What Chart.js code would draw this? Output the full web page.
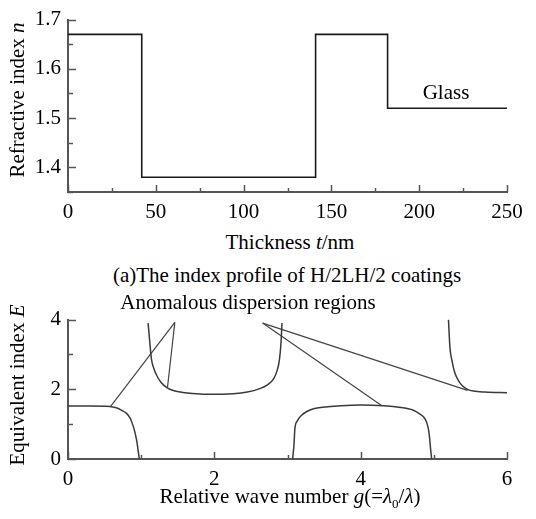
<!DOCTYPE html>
<html><head><meta charset="utf-8">
<script src="https://cdn.jsdelivr.net/npm/chart.js@4/dist/chart.umd.min.js"></script>
<style>
html,body{margin:0;padding:0;background:#fff;}
body{width:536px;height:519px;position:relative;overflow:hidden;font-family:"Liberation Serif","Times New Roman",serif;color:#000;}
canvas{position:absolute;left:0;}
.t{position:absolute;font-size:21px;white-space:nowrap;line-height:1;transform:translate(-50%,-50%);}
.r{transform:translate(-50%,-50%) rotate(-90deg);}
</style></head><body>
<canvas id="topChart" width="536" height="222" style="top:0"></canvas>
<canvas id="botChart" width="536" height="190" style="top:300px"></canvas>
<div class="t r" style="left:17px;top:100px">Refractive index <i>n</i></div>
<div class="t" style="left:290px;top:242px">Thickness <i>t</i>/nm</div>
<div class="t" style="left:446px;top:92px">Glass</div>
<div class="t" style="left:287px;top:275px">(a)The index profile of H/2LH/2 coatings</div>
<div class="t" style="left:248px;top:302px">Anomalous dispersion regions</div>
<div class="t r" style="left:17px;top:385px">Equivalent index <i>E</i></div>
<div class="t" style="left:290px;top:498px">Relative wave number <i>g</i>(=<i>λ</i><sub style="font-size:13px">0</sub>/<i>λ</i>)</div>
<script>
// ---- Top chart: index profile (thickness in nm, refractive index)
const layerStart = [0, 42, 141, 182];
const layerEnd   = [42, 141, 182, 250];
const layerIndex = [1.67, 1.38, 1.67, 1.52];
const topXTicks = [0, 50, 100, 150, 200, 250];
const topYTicks = [1.4, 1.5, 1.6, 1.7];

// ---- Bottom chart: equivalent index E vs relative wave number g
const curve1G = [0, 0.3, 0.57, 0.66, 0.74, 0.80, 0.85, 0.89, 0.92, 0.945, 0.96, 0.975];
const curve1E = [1.52, 1.52, 1.51, 1.47, 1.39, 1.31, 1.17, 0.95, 0.72, 0.45, 0.22, 0];
const curve2G = [1.095, 1.12, 1.14, 1.17, 1.21, 1.27, 1.35, 1.45, 1.57, 1.7, 1.89, 2.1, 2.26, 2.45, 2.62, 2.72, 2.81, 2.86, 2.89, 2.91, 2.925];
const curve2E = [3.9, 3.3, 2.87, 2.62, 2.41, 2.2, 2.05, 1.96, 1.91, 1.88, 1.86, 1.86, 1.87, 1.92, 2.02, 2.12, 2.3, 2.55, 2.85, 3.3, 3.9];
const curve3G = [3.07, 3.09, 3.1, 3.13, 3.19, 3.27, 3.37, 3.55, 3.73, 4.0, 4.31, 4.5, 4.72, 4.8, 4.88, 4.92, 4.94, 4.955, 4.97];
const curve3E = [0, 0.45, 0.85, 1.08, 1.25, 1.37, 1.45, 1.5, 1.53, 1.55, 1.53, 1.49, 1.4, 1.3, 1.15, 0.92, 0.65, 0.3, 0];
const curve4G = [5.2, 5.22, 5.25, 5.28, 5.33, 5.39, 5.46, 5.54, 5.7, 6.0];
const curve4E = [4.0, 3.2, 2.8, 2.52, 2.27, 2.1, 2.0, 1.95, 1.92, 1.9];
// annotation pointer lines from "Anomalous dispersion regions"
const pointerFromG = [1.46, 1.46, 2.66, 2.66];
const pointerFromE = [3.92, 3.92, 3.9, 3.9];
const pointerToG   = [0.58, 1.36, 4.29, 5.46];
const pointerToE   = [1.5, 2.06, 1.53, 1.97];
const botXTicks = [0, 2, 4, 6];
const botYTicks = [0, 2, 4];

const FONT = {family:'"Liberation Serif","Times New Roman",serif', size:21};
const near = (v, arr) => arr.some(a => Math.abs(a - v) < 1e-6);

const innerTicks = {
  id: 'innerTicks',
  afterDraw(chart, args, o) {
    const ctx = chart.ctx, ca = chart.chartArea;
    const xs = chart.scales.x, ys = chart.scales.y;
    ctx.save();
    ctx.strokeStyle = '#555'; ctx.lineWidth = 1.5;
    xs.ticks.forEach(t => {
      const p = Math.round(xs.getPixelForValue(t.value)) + 0.5;
      const len = near(t.value, o.xMajor) ? 7 : 4;
      ctx.beginPath(); ctx.moveTo(p, ca.bottom); ctx.lineTo(p, ca.bottom - len); ctx.stroke();
    });
    ys.ticks.forEach(t => {
      const p = Math.round(ys.getPixelForValue(t.value)) + 0.5;
      const len = near(t.value, o.yMajor) ? 8 : 5;
      ctx.beginPath(); ctx.moveTo(ca.left, p); ctx.lineTo(ca.left + len, p); ctx.stroke();
    });
    ctx.restore();
  }
};

function axis(min, max, step, majors, fmt, fitKey, fitVal, pad) {
  return {
    type: 'linear', min, max,
    grid: {display: false, tickLength: 0, drawTicks: false},
    border: {display: true, color: '#555', width: 2},
    ticks: {stepSize: step, autoSkip: false, color: '#000', font: FONT, padding: pad,
      callback: v => near(v, majors) ? fmt(v) : ''},
    afterFit: s => { s[fitKey] = fitVal; }
  };
}

// top chart
const profilePts = [];
layerStart.forEach((s, i) => { profilePts.push({x: s, y: layerIndex[i]}); profilePts.push({x: layerEnd[i], y: layerIndex[i]}); });
new Chart(document.getElementById('topChart'), {
  type: 'line',
  data: {datasets: [{data: profilePts, borderColor: '#1a1a1a', borderWidth: 1.6, pointRadius: 0, tension: 0}]},
  options: {
    responsive: false, animation: false, devicePixelRatio: 1, events: [],
    layout: {padding: {top: 14, right: 29, left: 0, bottom: 0}},
    plugins: {legend: {display: false}, tooltip: {enabled: false}, innerTicks: {xMajor: topXTicks, yMajor: topYTicks}},
    scales: {
      x: axis(0, 250, 25, topXTicks, v => String(v), 'height', 30, 8),
      y: axis(1.35, 1.7, 0.05, topYTicks, v => v.toFixed(1), 'width', 68, 7)
    }
  },
  plugins: [innerTicks]
});

// bottom chart
const mk = (g, e) => g.map((v, i) => ({x: v, y: e[i]}));
const curveStyle = {borderColor: '#3a3a3a', borderWidth: 1.5, pointRadius: 0, cubicInterpolationMode: 'monotone'};
const ds = [
  Object.assign({data: mk(curve1G, curve1E)}, curveStyle),
  Object.assign({data: mk(curve2G, curve2E)}, curveStyle),
  Object.assign({data: mk(curve3G, curve3E)}, curveStyle),
  Object.assign({data: mk(curve4G, curve4E)}, curveStyle)
];
pointerFromG.forEach((g, i) => ds.push({
  data: [{x: g, y: pointerFromE[i]}, {x: pointerToG[i], y: pointerToE[i]}],
  borderColor: '#444', borderWidth: 1.2, pointRadius: 0, tension: 0
}));
new Chart(document.getElementById('botChart'), {
  type: 'line',
  data: {datasets: ds},
  options: {
    responsive: false, animation: false, devicePixelRatio: 1, events: [],
    layout: {padding: {top: 17, right: 29, left: 0, bottom: 0}},
    plugins: {legend: {display: false}, tooltip: {enabled: false}, innerTicks: {xMajor: botXTicks, yMajor: botYTicks}},
    scales: {
      x: axis(0, 6, 1, botXTicks, v => String(v), 'height', 31, 8),
      y: axis(0, 4, 1, botYTicks, v => String(v), 'width', 68, 7)
    }
  },
  plugins: [innerTicks]
});
</script>
</body></html>
